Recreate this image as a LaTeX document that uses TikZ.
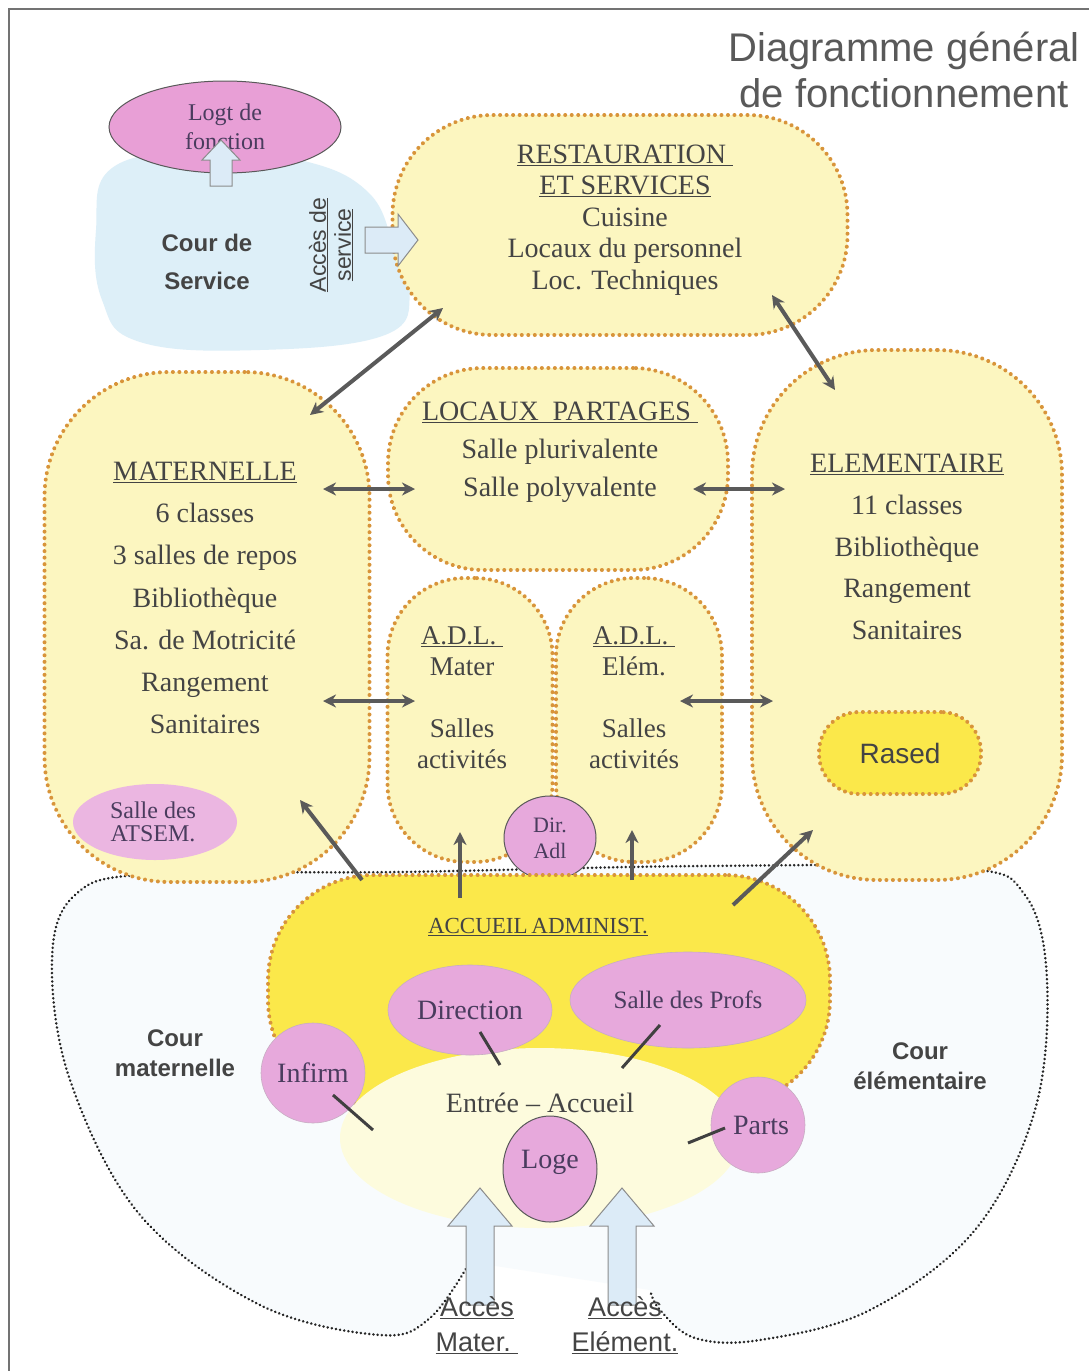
\documentclass[tikz,border=0pt]{standalone}
\usepackage{fontspec}
\setmainfont{Liberation Serif}
\setsansfont{Liberation Sans}
\usetikzlibrary{arrows.meta,shapes.geometric}
\definecolor{txt}{HTML}{444444}
\definecolor{ptxt}{HTML}{4A3C5E}
\definecolor{yel}{HTML}{FCF6C0}
\definecolor{dotc}{HTML}{D8943A}
\definecolor{byel}{HTML}{FBE84A}
\definecolor{entfill}{HTML}{FDFBDD}
\definecolor{pinkf}{HTML}{E7A9DC}
\definecolor{pinkd}{HTML}{E89FD6}
\definecolor{bluea}{HTML}{DCEBF7}
\definecolor{courf}{HTML}{DDEFF8}
\definecolor{outerf}{HTML}{F8FBFD}
\definecolor{arrc}{HTML}{5A5A5A}
\tikzset{
  blob/.style={shape=rectangle, fill=yel, draw=dotc, line width=4pt, line cap=round,
     dash pattern=on 0.01pt off 6.5pt, inner sep=0pt},
  pinkell/.style={shape=ellipse, fill=pinkf, draw=pinkf!70!black!60, line width=0.6pt, inner sep=0pt, text=ptxt,
     font=\fontsize{28}{28}\selectfont},
  body/.style={text=txt, align=center},
  sansb/.style={text=txt, align=center, font=\sffamily\bfseries\fontsize{24}{30}\selectfont},
  dbl/.style={draw=arrc, line width=4pt, {Stealth[length=13pt,width=13pt]}-{Stealth[length=13pt,width=13pt]}},
  sgl/.style={draw=arrc, line width=4pt, -{Stealth[length=13pt,width=13pt]}},
  link/.style={draw=black!75, line width=3pt},
  barrow/.style={fill=bluea, draw=black!45, line width=1pt, line join=miter},
}
\begin{document}
\begin{tikzpicture}[x=1pt,y=-1pt]
\useasboundingbox (0,0) rectangle (1089,1371);
\fill[white] (0,0) rectangle (1089,1371);
\draw[black!55, line width=1.5pt] (9,1371) -- (9,9) -- (1089,9);

% outer courtyard boundary
\fill[outerf] plot[smooth, tension=0.6] coordinates {(470,1262) (430,1318) (380,1335) (260,1305) (140,1215) (70,1080) (52,960) (75,895) (150,874) (400,872) (700,866) (960,868) (1025,895) (1047,980) (1035,1110) (975,1230) (870,1310) (760,1340) (695,1338) (660,1310) (650,1290)} -- cycle;
\draw[black!85, line width=2.8pt, line cap=round, dash pattern=on 0.01pt off 4.2pt] plot[smooth, tension=0.6] coordinates {(470,1262) (430,1318) (380,1335) (260,1305) (140,1215) (70,1080) (52,960) (75,895) (150,874) (400,872) (700,866) (960,868) (1025,895) (1047,980) (1035,1110) (975,1230) (870,1310) (760,1340) (695,1338) (660,1310) (650,1290)};

% Cour de service
\fill[courf] plot[smooth cycle, tension=0.7] coordinates {(112,168) (200,152) (300,160) (368,192) (395,250) (410,292) (385,335) (260,350) (140,342) (102,300) (96,230)};
\node[shape=ellipse, fill=pinkd, draw=black!65, line width=1pt, minimum width=232pt, minimum height=92pt, inner sep=0pt] (logt) at (225,127) {};
\node[text=ptxt, align=center, font=\fontsize{24}{29}\selectfont] (logtt) at (225,127) {Logt de\\fonction};
\draw[barrow] (210,186) -- (210,160) -- (202,160) -- (221,140) -- (240,160) -- (232,160) -- (232,186) -- cycle;
\node[sansb] (cour) at (207,262) {Cour de\\[8pt]Service};
\node[rotate=90, text=txt, align=center, font=\sffamily\fontsize{23}{25}\selectfont] (acs) at (331,245) {\underline{Accès de}\\\underline{service}};

% yellow blobs
\node[blob, minimum width=455pt, minimum height=220pt, rounded corners=100pt] (rest) at (620,225) {};
\node[blob, minimum width=325pt, minimum height=510pt, rounded corners=125pt] (mat) at (207,627) {};
\node[blob, minimum width=310pt, minimum height=530pt, rounded corners=125pt] (elem) at (907,615) {};
\node[blob, minimum width=340pt, minimum height=202pt, rounded corners=95pt] (loc) at (558,469) {};
\node[blob, minimum width=165pt, minimum height=284pt, rounded corners=78pt] (adlm) at (470,720) {};
\node[blob, minimum width=166pt, minimum height=284pt, rounded corners=78pt] (adle) at (639,720) {};
\node[blob, fill=byel, minimum width=162pt, minimum height=82pt, rounded corners=40pt] (rased) at (900,753) {};
\node[text=txt, font=\sffamily\fontsize{28}{28}\selectfont] (rasedt) at (900,753) {Rased};
\node[pinkell, draw=none, fill=pinkf!85, minimum width=164pt, minimum height=76pt] (atsem) at (155,822) {};
\node[text=ptxt, align=center, font=\fontsize{24}{23}\selectfont] (atsemt) at (153,822) {Salle des\\ATSEM.};
\node[pinkell, draw=black!65, line width=1pt, minimum width=92pt, minimum height=84pt] (dir) at (550,838) {};
\node[text=ptxt, align=center, font=\fontsize{22}{26}\selectfont] (dirt) at (550,838) {Dir.\\Adl};

\draw[barrow] (365,227) -- (398,227) -- (398,214) -- (418,240) -- (398,266) -- (398,253) -- (365,253) -- cycle;

% accueil administratif
\node[blob, fill=byel, minimum width=562pt, minimum height=230pt, rounded corners=105pt] (acc) at (549,990) {};
\node[shape=ellipse, fill=entfill, minimum width=400pt, minimum height=180pt, inner sep=0pt] (ent) at (540,1138) {};
\node[text=txt, font=\fontsize{23}{23}\selectfont] (acct) at (538,927) {\underline{ACCUEIL\,ADMINIST.}};

\node[pinkell, minimum width=164pt, minimum height=90pt] (direc) at (470,1010) {Direction};
\node[pinkell, minimum width=236pt, minimum height=96pt, font=\fontsize{25}{25}\selectfont] (profs) at (688,1000) {Salle des Profs};
\node[pinkell, minimum width=104pt, minimum height=100pt] (inf) at (313,1073) {Infirm};
\node[pinkell, minimum width=94pt, minimum height=96pt] (parts) at (758,1125) {\hspace*{6pt}Parts};
\node[pinkell, draw=black!65, line width=1pt, minimum width=94pt, minimum height=106pt] (loge) at (550,1169) {};
\node[text=ptxt, font=\fontsize{28}{28}\selectfont] (loget) at (550,1162) {Loge};
\node[text=txt, font=\fontsize{28}{28}\selectfont] (entt) at (540,1103) {Entrée -- Accueil};

\coordinate (e1) at (373,1130);
\coordinate (e2) at (500,1065);
\coordinate (e3) at (622,1068);
\coordinate (e4) at (688,1143);
\draw[link] (inf.center) ++(20,22) coordinate (i1) -- (e1);
\draw[link] (480,1032) coordinate (d1) -- (e2);
\draw[link] (660,1025) coordinate (p1) -- (e3);
\draw[link] (725,1128) coordinate (q1) -- (e4);

% block arrows at bottom
\draw[barrow] (466,1305) -- (466,1226) -- (448,1226) -- (480,1188) -- (512,1226) -- (494,1226) -- (494,1305) -- cycle;
\draw[barrow] (608,1305) -- (608,1226) -- (590,1226) -- (622,1188) -- (654,1226) -- (636,1226) -- (636,1305) -- cycle;
\node[text=txt, align=center, font=\sffamily\fontsize{27}{35}\selectfont] (am) at (477,1325) {\underline{Accès}\\\underline{Mater.\ }};
\node[text=txt, align=center, font=\sffamily\fontsize{27}{35}\selectfont] (ae) at (625,1325) {\underline{Accès}\\\underline{Elément.}};

\node[sansb] (cm) at (175,1053) {Cour\\maternelle};
\node[sansb] (ce) at (920,1066) {Cour\\élémentaire};

% texts
\node[body, font=\fontsize{28}{31.5}\selectfont] (restt) at (625,220) {\underline{RESTAURATION\ }\\\underline{ET SERVICES}\\Cuisine\\Locaux du personnel\\Loc. Techniques};
\node[body, font=\fontsize{28}{42.2}\selectfont] (matt) at (205,598) {\underline{MATERNELLE}\\6 classes\\3 salles de repos\\Bibliothèque\\Sa. de Motricité\\Rangement\\Sanitaires};
\node[body, font=\fontsize{28}{41.8}\selectfont] (elemt) at (907,547) {\underline{ELEMENTAIRE}\\11 classes\\Bibliothèque\\Rangement\\Sanitaires};
\node[body, font=\fontsize{28}{38}\selectfont] (loct) at (560,452) {\underline{LOCAUX\ \ PARTAGES\ }\\Salle plurivalente\\Salle polyvalente};
\node[body, font=\fontsize{27}{31}\selectfont] (adlmt) at (462,698) {\underline{A.D.L.\ }\\Mater\\[31pt]Salles\\activités};
\node[body, font=\fontsize{27}{31}\selectfont] (adlet) at (634,698) {\underline{A.D.L.\ }\\Elém.\\[31pt]Salles\\activités};

\node[text=black!65, align=center, font=\sffamily\fontsize{40}{46}\selectfont] (title) at (904,70) {Diagramme général\\de fonctionnement};

% connectors
\coordinate (a1) at (310,415); \coordinate (a2) at (443,308);
\coordinate (b1) at (772,295); \coordinate (b2) at (835,390);
\coordinate (c1) at (323,489); \coordinate (c2) at (415,489);
\coordinate (d3) at (693,489); \coordinate (d4) at (785,489);
\coordinate (f1) at (323,701); \coordinate (f2) at (415,701);
\coordinate (g1) at (680,701); \coordinate (g2) at (773,701);
\draw[dbl] (a1) -- (a2);
\draw[dbl] (b1) -- (b2);
\draw[dbl] (c1) -- (c2);
\draw[dbl] (d3) -- (d4);
\draw[dbl] (f1) -- (f2);
\draw[dbl] (g1) -- (g2);
\coordinate (h1) at (362,880); \coordinate (h2) at (300,800);
\coordinate (k1) at (460,898); \coordinate (k2) at (460,832);
\coordinate (m1) at (632,880); \coordinate (m2) at (632,830);
\coordinate (n1) at (733,905); \coordinate (n2) at (813,830);
\draw[sgl] (h1) -- (h2);
\draw[sgl] (k1) -- (k2);
\draw[sgl] (m1) -- (m2);
\draw[sgl] (n1) -- (n2);
\end{tikzpicture}
\end{document}
